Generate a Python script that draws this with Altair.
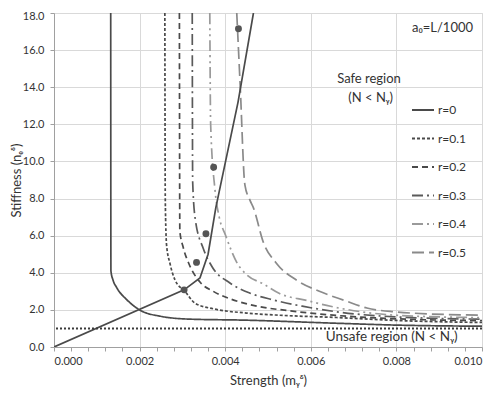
import altair as alt
import pandas as pd

# ---------------- data ----------------
r_labels = ["r=0", "r=0.1", "r=0.2", "r=0.3", "r=0.4", "r=0.5"]

r0_x = [0.001325, 0.00133, 0.00138, 0.00146, 0.0017, 0.0020, 0.00248, 0.00318, 0.0044, 0.0066, 0.0080, 0.0100]
r0_y = [18.0, 4.1, 3.6, 3.22, 2.55, 2.0, 1.66, 1.5, 1.45, 1.28, 1.18, 1.12]

r1_x = [0.00259, 0.00260, 0.00263, 0.00271, 0.00283, 0.00306, 0.0033, 0.00372, 0.0045, 0.00528, 0.0066, 0.0080, 0.0100]
r1_y = [18.0, 8.0, 5.5, 4.5, 3.6, 3.0, 2.35, 2.06, 1.83, 1.71, 1.59, 1.43, 1.32]

r2_x = [0.00293, 0.00294, 0.00302, 0.00315, 0.00341, 0.00372, 0.00411, 0.00474, 0.00551, 0.0066, 0.0080, 0.0100]
r2_y = [18.0, 6.25, 5.36, 4.5, 3.5, 3.0, 2.6, 2.2, 1.95, 1.7, 1.52, 1.42]

r3_x = [0.00323, 0.00324, 0.00330, 0.00349, 0.00370, 0.00411, 0.00458, 0.00510, 0.00580, 0.0066, 0.0080, 0.0100]
r3_y = [18.0, 8.9, 6.9, 5.3, 4.3, 3.45, 2.9, 2.55, 2.2, 1.9, 1.62, 1.5]

r4_x = [0.00364, 0.00366, 0.00376, 0.00386, 0.00400, 0.00427, 0.00450, 0.00489, 0.00528, 0.0059, 0.00637, 0.0080, 0.0100]
r4_y = [18.0, 12.0, 8.5, 7.0, 6.07, 4.56, 3.9, 3.4, 2.87, 2.51, 2.24, 1.71, 1.58]

r5_x = [0.00427, 0.00435, 0.00446, 0.00458, 0.00466, 0.00489, 0.00520, 0.00567, 0.0062, 0.0068, 0.00731, 0.0080, 0.00879, 0.0100]
r5_y = [18.0, 14.1, 8.74, 7.9, 7.5, 5.65, 4.5, 3.6, 3.0, 2.5, 2.1, 1.89, 1.78, 1.72]

limit_x = [0.0, 0.00304, 0.00341, 0.00360, 0.00378, 0.00430, 0.00466]
limit_y = [0.0, 3.08, 3.72, 5.0, 7.5, 13.2, 18.0]

dot_x = [0.00304, 0.00333, 0.00355, 0.00373, 0.00431]
dot_y = [3.08, 4.56, 6.1, 9.69, 17.15]

unsafe_level = [1.0]

x_tick_values = [0.0, 0.0004, 0.0008, 0.0012, 0.0016, 0.002, 0.0024, 0.0028, 0.0032, 0.0036,
                 0.004, 0.0044, 0.0048, 0.0052, 0.0056, 0.006, 0.0064, 0.0068, 0.0072, 0.0076,
                 0.008, 0.0084, 0.0088, 0.0092, 0.0096, 0.010]
y_tick_values = [0.0, 2.0, 4.0, 6.0, 8.0, 10.0, 12.0, 14.0, 16.0, 18.0]

# ---------------- tables ----------------
series = [(r_labels[0], r0_x, r0_y), (r_labels[1], r1_x, r1_y), (r_labels[2], r2_x, r2_y),
          (r_labels[3], r3_x, r3_y), (r_labels[4], r4_x, r4_y), (r_labels[5], r5_x, r5_y)]
rows = []
for name, xs, ys in series:
    for i, (a, b) in enumerate(zip(xs, ys)):
        rows.append({"r": name, "v": a, "n": b, "i": i})
curves_df = pd.DataFrame(rows)
limit_df = pd.DataFrame({"v": limit_x, "n": limit_y, "i": list(range(len(limit_x)))})
dots_df = pd.DataFrame({"v": dot_x, "n": dot_y})
rule_df = pd.DataFrame({"n": unsafe_level})

FONT = "Lato"
TXT = "#333333"

xscale = alt.Scale(domain=[0, 0.010], nice=False, zero=False)
yscale = alt.Scale(domain=[0, 18], nice=False)

major_test = "abs(datum.value*500 - round(datum.value*500)) < 0.001"
x_axis = alt.Axis(
    values=x_tick_values,
    format=".3f",
    labelExpr=f"{major_test} ? datum.label : ''",
    labelOverlap=False,
    gridOpacity={"condition": {"test": major_test, "value": 1}, "value": 0},
    title="Strength (mᵧᵟ)",
)
y_axis = alt.Axis(
    values=y_tick_values, format=".1f", labelOverlap=False,
    labelOffset={"condition": {"test": "datum.value >= 18", "value": 3}, "value": 0},
    title="Stiffness (nₑᵟ)",
)

X = alt.X("v:Q", scale=xscale, axis=x_axis)
Y = alt.Y("n:Q", scale=yscale, axis=y_axis)

colors = ["#4a4a4a", "#4a4a4a", "#4a4a4a", "#5a5a5a", "#9a9a9a", "#8a8a8a"]
dashes = [[1, 0], [3, 2], [6, 4], [11, 4, 2, 4], [11, 4, 2, 4, 2, 4], [12, 5]]

legend = alt.Legend(
    title=None, orient="none", legendX=357, legendY=85,
    symbolType="stroke", symbolSize=484, symbolStrokeWidth=2,
    labelFontSize=12, labelFont=FONT, labelColor=TXT, labelOffset=3,
    rowPadding=10.5,
)

curves = alt.Chart(curves_df).mark_line(clip=True, interpolate="monotone", strokeWidth=1.7).encode(
    x=X, y=Y,
    color=alt.Color("r:N", scale=alt.Scale(domain=r_labels, range=colors), legend=legend),
    strokeDash=alt.StrokeDash("r:N", scale=alt.Scale(domain=r_labels, range=dashes), legend=legend),
    order="i:Q",
)

limit = alt.Chart(limit_df).mark_line(clip=True, color="#4a4a4a", strokeWidth=1.7).encode(
    x=X, y=Y, order="i:Q"
)

dots = alt.Chart(dots_df).mark_circle(size=48, color="#555555", opacity=1).encode(x=X, y=Y)

rule = alt.Chart(rule_df).mark_rule(color="#3a3a3a", strokeWidth=2, strokeDash=[2, 2]).encode(y=Y)

def label(text, v, n, align, size=13):
    return alt.Chart(pd.DataFrame({"v": [v], "n": [n], "t": [text]})).mark_text(
        align=align, baseline="middle", font=FONT, fontSize=size, color=TXT
    ).encode(x=X, y=Y, text="t:N")

texts = (
    label("a₀=L/1000", 0.00979, 17.2, "right")
    + label("Safe region", 0.00736, 14.42, "center")
    + label("(N < Nᵧ)", 0.00740, 13.4, "center")
    + label("Unsafe region (N < Nᵧ)", 0.00789, 0.52, "center", 13.5)
)

chart = (curves + limit + dots + rule + texts).properties(
    width=428, height=334,
    autosize=alt.AutoSizeParams(type="none"),
    padding={"left": 46, "top": 5, "right": 10, "bottom": 42},
).configure_axis(
    labelFont=FONT, titleFont=FONT, labelFontSize=11, titleFontSize=13,
    labelColor=TXT, titleColor=TXT, titleFontWeight="normal",
    gridColor="#d9d9d9", domainColor="#a0a0a0", tickColor="#a0a0a0", tickSize=4,
).configure_axisX(labelPadding=4, titlePadding=8).configure_axisY(
    labelPadding=6, titleX=-38, titleY=167, titleBaseline="middle", titleAlign="center"
).configure_view(stroke="#d9d9d9")

chart.save("out.html", embed_options={"renderer": "svg", "actions": False})
